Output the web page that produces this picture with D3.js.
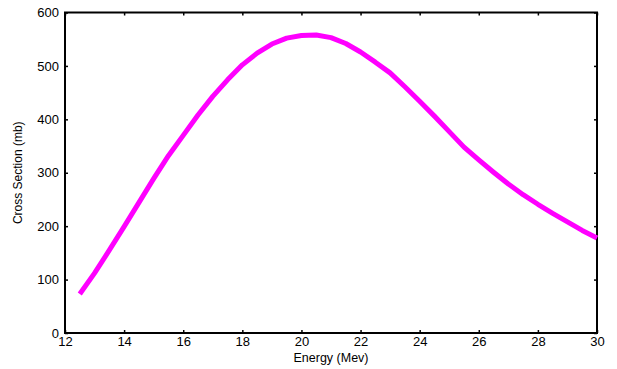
<!DOCTYPE html>
<html>
<head>
<meta charset="utf-8">
<script src="https://cdn.jsdelivr.net/npm/d3@7"></script>
<style>
  html, body { margin: 0; padding: 0; background: #fff; }
  svg { display: block; }
  text { font-family: "Liberation Sans", Arial, sans-serif; fill: #000; }
</style>
</head>
<body>
<svg id="chart" width="617" height="369"></svg>
<script>
// Excitation function: energy (MeV) vs cross section (mb)
const energy = [12.5, 13, 13.5, 14, 14.5, 15, 15.5, 16, 16.5, 17, 17.5, 18, 18.5, 19, 19.5, 20,
                20.5, 21, 21.5, 22, 22.5, 23, 23.5, 24, 24.5, 25, 25.5, 26, 26.5, 27, 27.5, 28,
                28.5, 29, 29.5, 30];
const crossSection = [73, 112, 155, 199, 244, 289, 332, 370, 408, 443, 474, 502, 524, 541, 552, 557,
                      558, 553, 542, 526, 507, 487, 461, 434, 406, 377, 348, 324, 301, 279, 259, 241,
                      224, 208, 192, 178];
const xTicks = [12, 14, 16, 18, 20, 22, 24, 26, 28, 30];
const yTicks = [0, 100, 200, 300, 400, 500, 600];

const svg = d3.select("#chart");
const margin = { left: 65, right: 20, top: 12.5, bottom: 36 };
const W = 617, H = 369;
const x = d3.scaleLinear().domain([12, 30]).range([margin.left, W - margin.right]);
const y = d3.scaleLinear().domain([0, 600]).range([H - margin.bottom, margin.top]);

const tickLen = 3;

// Bottom axis with labels, top axis mirrored without labels
svg.append("g")
  .attr("transform", `translate(0,${y(0)})`)
  .call(d3.axisBottom(x).tickValues(xTicks).tickSizeInner(-tickLen).tickSizeOuter(0).tickPadding(5))
  .call(g => g.select(".domain").remove())
  .call(g => g.selectAll("text").attr("font-size", 13).attr("dy", "0.62em"))
  .call(g => g.selectAll("line").attr("stroke-width", 1.5));

svg.append("g")
  .attr("transform", `translate(0,${y(600)})`)
  .call(d3.axisTop(x).tickValues(xTicks).tickSizeInner(-tickLen).tickSizeOuter(0).tickFormat(""))
  .call(g => g.select(".domain").remove())
  .call(g => g.selectAll("line").attr("stroke-width", 1.5));

svg.append("g")
  .attr("transform", `translate(${x(12)},0)`)
  .call(d3.axisLeft(y).tickValues(yTicks).tickSizeInner(-tickLen).tickSizeOuter(0).tickPadding(6))
  .call(g => g.select(".domain").remove())
  .call(g => g.selectAll("text").attr("font-size", 13))
  .call(g => g.selectAll("line").attr("stroke-width", 1.5));

svg.append("g")
  .attr("transform", `translate(${x(30)},0)`)
  .call(d3.axisRight(y).tickValues(yTicks).tickSizeInner(-tickLen).tickSizeOuter(0).tickFormat(""))
  .call(g => g.select(".domain").remove())
  .call(g => g.selectAll("line").attr("stroke-width", 1.5));

// Plot frame
svg.append("rect")
  .attr("x", x(12)).attr("y", y(600))
  .attr("width", x(30) - x(12)).attr("height", y(0) - y(600))
  .attr("fill", "none").attr("stroke", "#000").attr("stroke-width", 2);

// Curve
const pts = energy.map((e, i) => [e, crossSection[i]]);
svg.append("path")
  .datum(pts)
  .attr("fill", "none")
  .attr("stroke", "#ff00ff")
  .attr("stroke-width", 5)
  .attr("stroke-linejoin", "round")
  .attr("d", d3.line().x(d => x(d[0])).y(d => y(d[1])));

// Axis titles
svg.append("text")
  .attr("x", (x(12) + x(30)) / 2).attr("y", 362)
  .attr("text-anchor", "middle").attr("font-size", 12.5)
  .text("Energy (Mev)");

svg.append("text")
  .attr("transform", `translate(22,${(y(0) + y(600)) / 2}) rotate(-90)`)
  .attr("text-anchor", "middle").attr("font-size", 12)
  .text("Cross Section (mb)");
</script>
</body>
</html>
